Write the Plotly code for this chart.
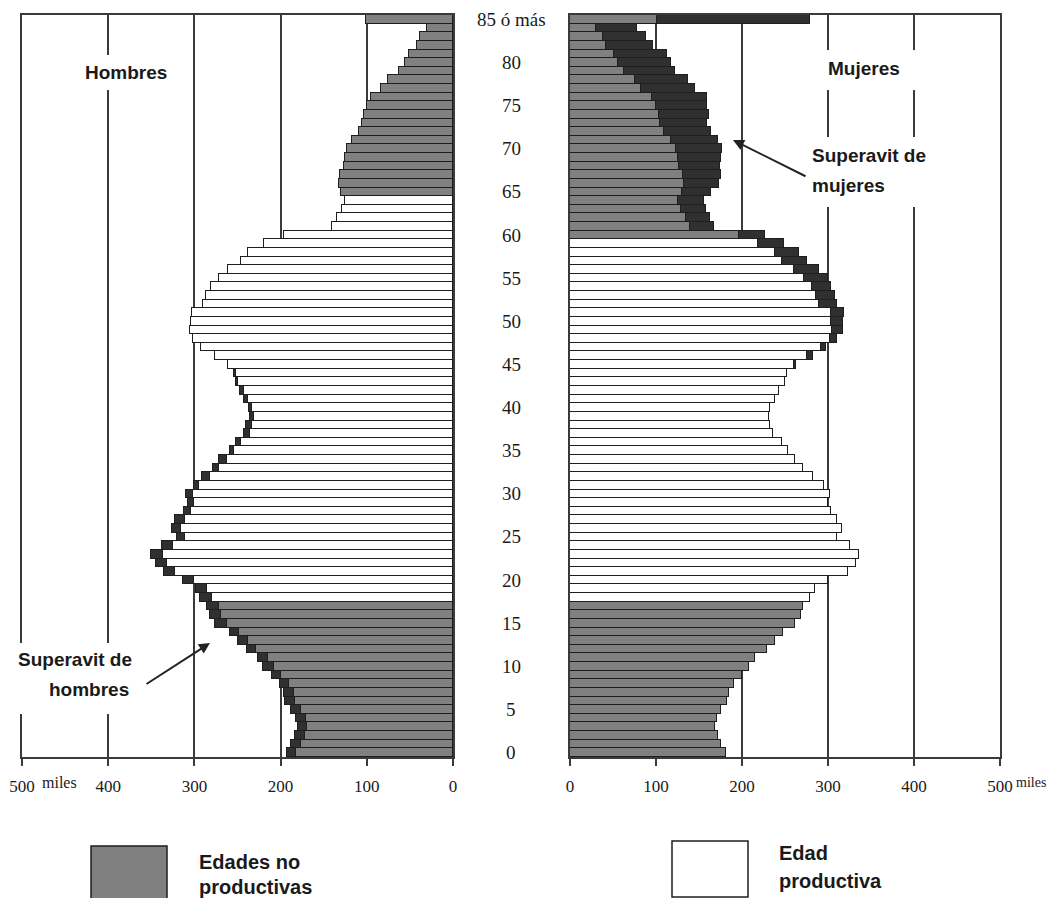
import plotly.graph_objects as go

# ---------------- data ----------------
ages = list(range(86))  # 0 .. 85 (85 = "85 ó más")

men = [192.6, 187.6, 183.7, 180, 182.6, 187.6, 194.6, 196.5, 201, 210,
       220.5, 226, 238.8, 249, 259, 275.6, 282, 285.6, 293, 298,
       313.6, 335, 345, 350, 338, 320, 326, 322.5, 311.6, 308,
       310, 301, 291, 279, 272, 259, 252, 242, 240, 235,
       237, 242, 247, 252, 254, 261, 276, 292, 302, 305,
       304, 303, 290, 286, 281, 272, 261, 246, 238, 219,
       196, 140, 135, 129, 125, 130, 132, 131, 127, 125,
       123, 117, 109, 105, 103, 100, 95, 83, 75, 63,
       56, 51, 42, 38, 30, 101]

women = [181.8, 176, 172, 169, 171, 176, 183, 185, 190.7, 199.6,
         208, 215, 228.7, 238, 248, 262, 269, 271, 279.5, 285,
         300, 323, 332, 336, 325, 311, 316, 311, 304, 300,
         302, 295, 282, 271, 262, 254, 246, 236, 233, 231,
         233, 238, 243, 250, 252, 263, 282, 298, 311, 317,
         317, 318.6, 310, 308, 304, 300, 289, 275, 266.7, 249,
         227, 167, 163, 158, 156, 164, 173, 175, 174, 175,
         177, 172, 164, 159, 162, 159, 159, 145, 137, 122.5,
         117, 113, 96, 88, 77.5, 279]

age_tick_vals = [0, 5, 10, 15, 20, 25, 30, 35, 40, 45, 50, 55, 60, 65, 70, 75, 80, 85]
age_tick_text = ["0", "5", "10", "15", "20", "25", "30", "35", "40", "45",
                 "50", "55", "60", "65", "70", "75", "80", "85 ó más"]

x_tick_vals = [0, 100, 200, 300, 400, 500]
x_tick_text = ["0", "100", "200", "300", "400", "500"]
unit_text = "miles"

productive_start = 18
men_productive_end = 64
women_productive_end = 59

# ---------------- styling ----------------
W, H = 1048, 898
GRAY = "#808080"
WHITE = "#ffffff"
EXCESS = "#303030"
EDGE = "#1e1e1e"
LINE = "#3a3a3a"
TXT = "#1a1a1a"
SANS = "Liberation Sans, Arial, sans-serif"
SERIF = "Liberation Serif, Times New Roman, serif"


def px(x):
    return x / W


def py(y):
    return 1 - y / H


common = [min(m, w) for m, w in zip(men, women)]
men_excess = [m - c for m, c in zip(men, common)]
women_excess = [w - c for w, c in zip(women, common)]
men_colors = [WHITE if productive_start <= a <= men_productive_end else GRAY for a in ages]
women_colors = [WHITE if productive_start <= a <= women_productive_end else GRAY for a in ages]

fig = go.Figure()
fig.add_trace(go.Bar(y=ages, x=common, orientation="h", xaxis="x", yaxis="y",
                     marker=dict(color=men_colors, line=dict(color=EDGE, width=1.2)),
                     showlegend=False, hoverinfo="skip"))
fig.add_trace(go.Bar(y=ages, x=men_excess, orientation="h", xaxis="x", yaxis="y",
                     marker=dict(color=EXCESS, line=dict(color=EDGE, width=1.2)),
                     showlegend=False, hoverinfo="skip"))
fig.add_trace(go.Bar(y=ages, x=common, orientation="h", xaxis="x2", yaxis="y2",
                     marker=dict(color=women_colors, line=dict(color=EDGE, width=1.2)),
                     showlegend=False, hoverinfo="skip"))
fig.add_trace(go.Bar(y=ages, x=women_excess, orientation="h", xaxis="x2", yaxis="y2",
                     marker=dict(color=EXCESS, line=dict(color=EDGE, width=1.2)),
                     showlegend=False, hoverinfo="skip"))

ydom = [py(757), py(15)]
xcommon = dict(tickvals=x_tick_vals, ticktext=x_tick_text, ticks="outside", ticklen=7,
               tickwidth=1.5, tickcolor=LINE, showgrid=True, gridcolor=LINE, gridwidth=1.5,
               showline=True, linecolor=LINE, linewidth=1.5, mirror=True, zeroline=False,
               tickfont=dict(family=SERIF, size=17, color=TXT), ticklabelstandoff=6,
               fixedrange=True)
ycommon = dict(domain=ydom, range=[-0.5, 85.5], showticklabels=False, showgrid=False,
               zeroline=False, showline=True, linecolor=LINE, linewidth=1.5, mirror=True,
               ticks="", fixedrange=True)

fig.update_layout(
    width=W, height=H, margin=dict(l=0, r=0, t=0, b=0, autoexpand=False),
    paper_bgcolor="white", plot_bgcolor="white",
    barmode="stack", bargap=0,
    xaxis=dict(domain=[px(22), px(453)], range=[500, 0], anchor="y", **xcommon),
    yaxis=dict(anchor="x", **ycommon),
    xaxis2=dict(domain=[px(570), px(1000)], range=[0, 500], anchor="y2", **xcommon),
    yaxis2=dict(anchor="x2", **ycommon),
)

shapes = []
annotations = []

# white boxes behind text (interrupt grid lines)
for (x0, y0, x1, y1) in [(84, 55, 172, 90), (812, 50, 922, 90),
                         (800, 137, 926, 207), (10, 643, 140, 714)]:
    shapes.append(dict(type="rect", xref="paper", yref="paper", x0=px(x0), x1=px(x1),
                       y0=py(y1), y1=py(y0), fillcolor="white", line=dict(width=0),
                       layer="above"))

# legend squares
shapes.append(dict(type="rect", xref="paper", yref="paper", x0=px(91), x1=px(167),
                   y0=py(900), y1=py(846), fillcolor=GRAY, line=dict(color=EDGE, width=1.5)))
shapes.append(dict(type="rect", xref="paper", yref="paper", x0=px(672), x1=px(748),
                   y0=py(897), y1=py(841), fillcolor=WHITE, line=dict(color=EDGE, width=1.5)))

# age labels in the middle
for v, t in zip(age_tick_vals, age_tick_text):
    annotations.append(dict(x=px(511), xref="paper", y=v, yref="y2", text=t, showarrow=False,
                            xanchor="center", yanchor="middle",
                            font=dict(family=SERIF, size=19, color=TXT)))

# unit labels
annotations.append(dict(x=px(40), y=py(782), xref="paper", yref="paper", text=unit_text,
                        showarrow=False, xanchor="left", yanchor="middle",
                        font=dict(family=SERIF, size=16, color=TXT)))
annotations.append(dict(x=px(1014), y=py(782), xref="paper", yref="paper", text=unit_text,
                        showarrow=False, xanchor="left", yanchor="middle",
                        font=dict(family=SERIF, size=14, color=TXT)))


def label(text, x, y, anchor="center", size=19):
    annotations.append(dict(x=px(x), y=py(y), xref="paper", yref="paper",
                            text="<b>" + text + "</b>", showarrow=False,
                            xanchor=anchor, yanchor="middle",
                            font=dict(family=SANS, size=size, color=TXT)))


label("Hombres", 126, 72)
label("Mujeres", 864, 69)
label("Superavit de", 810, 155, "left")
label("mujeres", 810, 185, "left")
label("Superavit de", 75, 659)
label("hombres", 89, 689)
label("Edades no", 197, 862, "left", 20)
label("productivas", 197, 887, "left", 20)
label("Edad", 777, 853, "left", 20)
label("productiva", 777, 881, "left", 20)

# arrows
annotations.append(dict(x=px(733), y=py(140), xref="paper", yref="paper", text="",
                        showarrow=True, ax=74, ay=37, axref="pixel", ayref="pixel",
                        arrowhead=2, arrowsize=1.1, arrowwidth=2, arrowcolor="#222"))
annotations.append(dict(x=px(210), y=py(643), xref="paper", yref="paper", text="",
                        showarrow=True, ax=-65, ay=42, axref="pixel", ayref="pixel",
                        arrowhead=2, arrowsize=1.1, arrowwidth=2, arrowcolor="#222"))

fig.update_layout(shapes=shapes, annotations=annotations)

fig.write_html("out.html", config={"displayModeBar": False},
               post_script="document.body.style.margin='0';document.body.style.overflow='hidden';")
